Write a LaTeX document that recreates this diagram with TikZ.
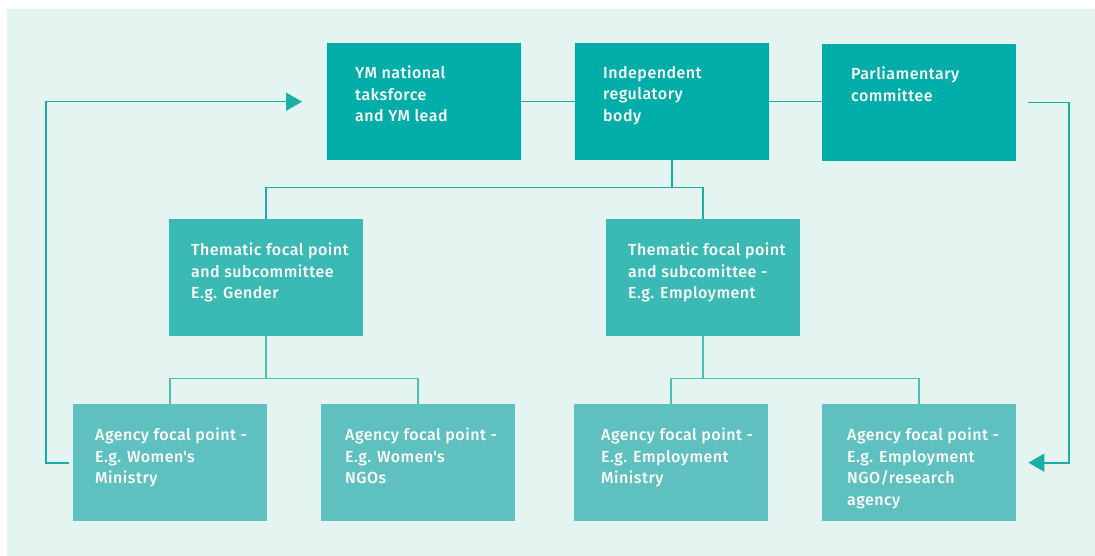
\documentclass[tikz,border=0pt]{standalone}
\usepackage{fontspec}
\setmainfont{Fira Sans}[UprightFont={* Medium}, LetterSpace=3]
\usetikzlibrary{arrows.meta}

\definecolor{panelbg}{HTML}{E4F4F1}
\definecolor{topteal}{HTML}{00ADA8}
\definecolor{midteal}{HTML}{3AB9B5}
\definecolor{lowteal}{HTML}{5FC1BF}
\definecolor{linkdark}{HTML}{1BAEA8}
\definecolor{linklight}{HTML}{4DBDB8}

\tikzset{
  box/.style={draw=none, inner sep=0pt, minimum width=194pt, minimum height=117pt, anchor=north west},
  topbox/.style={box, fill=topteal},
  midbox/.style={box, fill=midteal},
  lowbox/.style={box, fill=lowteal},
  label/.style={anchor=north west, inner sep=0pt, align=left, text=white,
    font=\fontsize{16}{21.5}\selectfont},
  link/.style={draw=linkdark, line width=1.6pt},
  sublink/.style={draw=linklight, line width=1.6pt},
  feedback/.style={draw=linkdark, line width=1.6pt, -{Triangle[length=16pt,width=18pt]}},
}
\newcommand{\firstline}{\rule{0pt}{12pt}}

\begin{document}
\begin{tikzpicture}[x=1pt, y=-1pt]
  \useasboundingbox (0,0) rectangle (1095,556);
  \fill[panelbg] (7,9) rectangle (1095,556);

  % top tier
  \node[topbox] (lead) at (327,43) {};
  \node[topbox] (regul) at (575,43) {};
  \node[topbox] (parl) at (822,44) {};
  % thematic tier
  \node[midbox] (themG) at (169,219) {};
  \node[midbox] (themE) at (606,219) {};
  % agency tier
  \node[lowbox] (agWM) at (73,404) {};
  \node[lowbox] (agWN) at (321,404) {};
  \node[lowbox] (agEM) at (574,404) {};
  \node[lowbox] (agER) at (822,404) {};

  % box texts
  \node[label] (tLead) at ([xshift=28pt,yshift=-23pt]lead.north west)
    {\firstline YM national\\taksforce\\and YM lead};
  \node[label] (tRegul) at ([xshift=28pt,yshift=-23pt]regul.north west)
    {\firstline Independent\\regulatory\\body};
  \node[label] (tParl) at ([xshift=29pt,yshift=-23pt]parl.north west)
    {\firstline Parliamentary\\committee};
  \node[label] (tThemG) at ([xshift=22pt,yshift=-24pt]themG.north west)
    {\firstline Thematic focal point\\and subcommittee\\E.g. Gender};
  \node[label] (tThemE) at ([xshift=22pt,yshift=-24pt]themE.north west)
    {\firstline Thematic focal point\\and subcomittee -\\E.g. Employment};
  \node[label] (tAgWM) at ([xshift=22pt,yshift=-24pt]agWM.north west)
    {\firstline Agency focal point -\\E.g. Women\textquotesingle s\\Ministry};
  \node[label] (tAgWN) at ([xshift=24pt,yshift=-24pt]agWN.north west)
    {\firstline Agency focal point -\\E.g. Women\textquotesingle s\\NGOs};
  \node[label] (tAgEM) at ([xshift=27pt,yshift=-24pt]agEM.north west)
    {\firstline Agency focal point -\\E.g. Employment\\Ministry};
  \node[label] (tAgER) at ([xshift=25pt,yshift=-24pt]agER.north west)
    {\firstline Agency focal point -\\E.g. Employment\\NGO/research\\agency};

  % links along the top tier
  \draw[link] (lead.east) -- (regul.west);
  \draw[link] (regul.east) -- (regul.east -| parl.west);

  % regulatory body down to the thematic tier
  \coordinate (busT) at ([yshift=-27pt]regul.south);
  \draw[link] (regul.south) -- (busT);
  \draw[link] (themG.north) |- (busT) -| (themE.north);

  % thematic points down to the agencies
  \coordinate (busG) at ([yshift=-42pt]themG.south);
  \coordinate (busE) at ([yshift=-42pt]themE.south);
  \draw[sublink] (themG.south) -- (busG);
  \draw[sublink] (agWM.north) |- (busG) -| (agWN.north);
  \draw[sublink] (themE.south) -- (busE);
  \draw[sublink] (agEM.north) |- (busE) -| (agER.north);

  % feedback loops
  \coordinate (fbLstart) at ([xshift=-4pt]agWM.west);
  \coordinate (fbLtip) at ([xshift=-25pt]lead.west);
  \coordinate (fbLcorner) at (46,0);
  \draw[feedback] (fbLstart) -- (fbLstart -| fbLcorner) |- (fbLtip);

  \coordinate (fbRstart) at ([xshift=12pt]parl.east);
  \coordinate (fbRtip) at ([xshift=12pt]agER.east);
  \coordinate (fbRcorner) at (1069,0);
  \draw[feedback] (fbRstart) -- (fbRstart -| fbRcorner) |- (fbRtip);
\end{tikzpicture}
\end{document}
